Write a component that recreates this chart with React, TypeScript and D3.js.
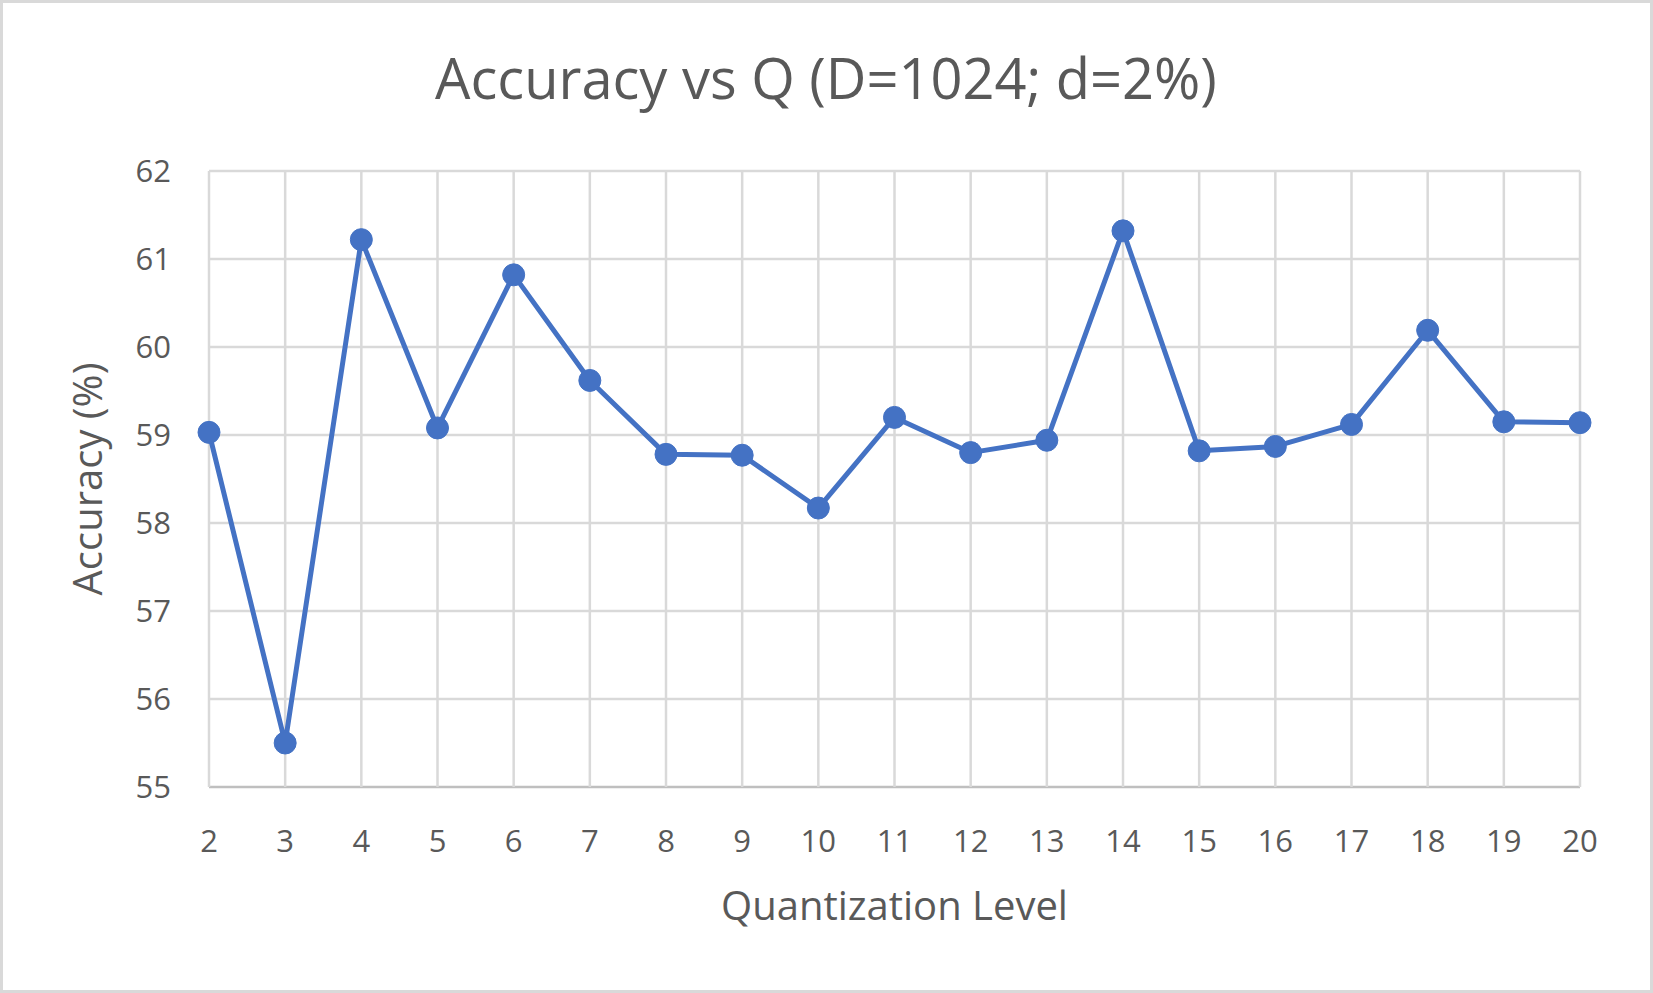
import React from "react";
import * as d3 from "d3";

const levels = [2,3,4,5,6,7,8,9,10,11,12,13,14,15,16,17,18,19,20];
const accuracy = [59.03,55.5,61.22,59.08,60.82,59.62,58.78,58.77,58.17,59.2,58.8,58.94,61.32,58.82,58.87,59.12,60.19,59.15,59.14];
const yTicks = [55,56,57,58,59,60,61,62];

export default function App() {
  const W = 1653, H = 993;
  const L = 209, R = 1580, T = 171, B = 787;
  const x = d3.scaleLinear().domain([2, 20]).range([L, R]);
  const y = d3.scaleLinear().domain([55, 62]).range([B, T]);
  const line = d3.line<number>().x((_, i) => x(levels[i])).y(d => y(d));
  const font = "'Open Sans', sans-serif";
  const tc = "#595959";
  return (
    <svg width={W} height={H} style={{ position: "absolute", left: 0, top: 0, background: "#fff" }} fontFamily={font}>
      <rect x={1.5} y={1.5} width={W - 3} height={H - 3} fill="#fff" stroke="#d9d9d9" strokeWidth={3} />
      <text x={826} y={99} textAnchor="middle" fontSize={56} fill={tc}>Accuracy vs Q (D=1024; d=2%)</text>
      {yTicks.map(t => (
        <g key={t}>
          <line x1={L} x2={R} y1={y(t)} y2={y(t)} stroke={t === 55 ? "#bfbfbf" : "#d9d9d9"} strokeWidth={2.5} />
          <text x={L - 38} y={y(t) + 11} textAnchor="end" fontSize={31} fill={tc}>{t}</text>
        </g>
      ))}
      {levels.map(l => (
        <g key={l}>
          <line x1={x(l)} x2={x(l)} y1={T} y2={B} stroke="#d9d9d9" strokeWidth={2.5} />
          <text x={x(l)} y={852} textAnchor="middle" fontSize={31} fill={tc}>{l}</text>
        </g>
      ))}
      <text x={(L + R) / 2} y={920} textAnchor="middle" fontSize={40} fill={tc}>Quantization Level</text>
      <text transform={`translate(102,${(T + B) / 2}) rotate(-90)`} textAnchor="middle" fontSize={40} fill={tc}>Accuracy (%)</text>
      <path d={line(accuracy) || ""} fill="none" stroke="#4472C4" strokeWidth={5} strokeLinejoin="round" />
      {accuracy.map((v, i) => (
        <circle key={i} cx={x(levels[i])} cy={y(v)} r={11} fill="#4472C4" stroke="#4472C4" />
      ))}
    </svg>
  );
}
